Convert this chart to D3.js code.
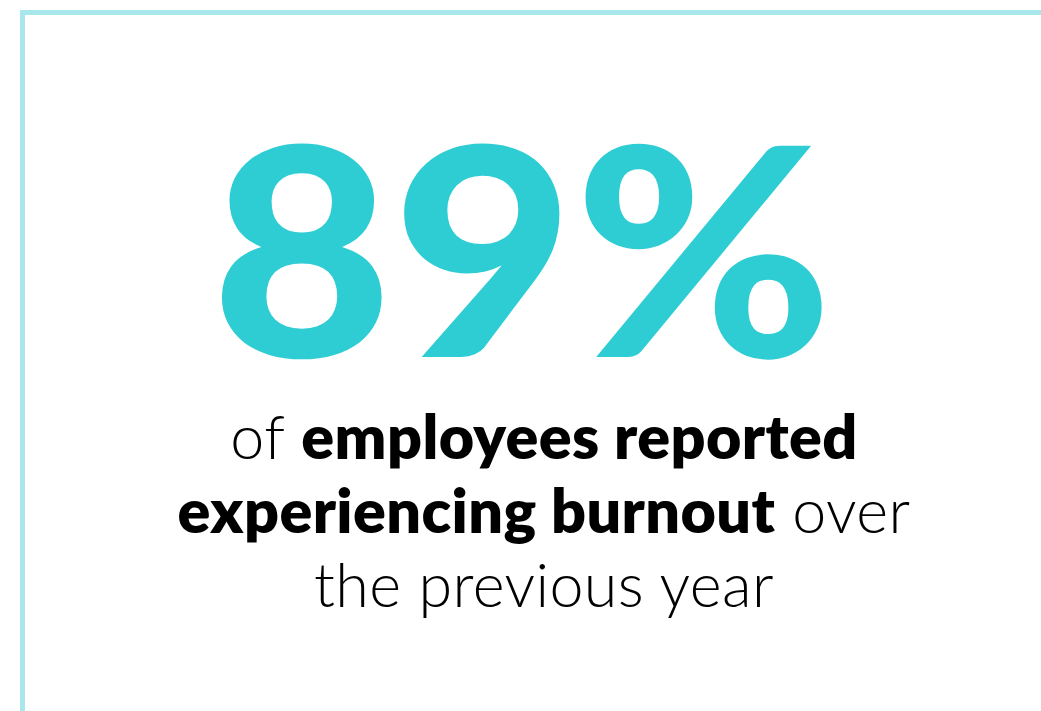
<!DOCTYPE html>
<html><head><meta charset="utf-8">
<script src="https://cdnjs.cloudflare.com/ajax/libs/d3/7.8.5/d3.min.js"></script>
<style>html,body{margin:0;padding:0;background:#fff;overflow:hidden}</style>
</head><body>
<svg id="c" width="1041" height="711"></svg>
<script>
const statValue = [89];
const statSuffix = ["%"];
const lineTexts = [
  ["of ", "employees reported"],
  ["experiencing burnout", " over"],
  ["the previous year"]
];
const lineBold = [
  [false, true],
  [true, false],
  [false]
];

const W = 1041, H = 711;
const svg = d3.select("#c");
const accent = "#2ecdd4", frame = "#a8e8ec";

// frame
svg.append("line").attr("x1", 22.5).attr("x2", 22.5).attr("y1", 10).attr("y2", H)
  .attr("stroke", frame).attr("stroke-width", 5);
svg.append("line").attr("x1", 20).attr("x2", W).attr("y1", 12.5).attr("y2", 12.5)
  .attr("stroke", frame).attr("stroke-width", 5);

// big number
const big = svg.append("text")
  .attr("x", 522).attr("y", 357)
  .attr("text-anchor", "middle")
  .attr("font-family", "Lato")
  .attr("font-weight", 900)
  .attr("font-size", 291)
  .attr("fill", accent)
  .attr("textLength", 622)
  .attr("lengthAdjust", "spacingAndGlyphs")
  .text(d3.format("d")(statValue[0]) + statSuffix[0]);

// label lines
const baselines = d3.scalePoint().domain(d3.range(lineTexts.length)).range([459, 607]);
lineTexts.forEach((parts, i) => {
  const t = svg.append("text")
    .attr("x", 544).attr("y", baselines(i))
    .attr("text-anchor", "middle")
    .attr("font-family", "Lato")
    .attr("font-size", 61)
    .attr("letter-spacing", 0.4)
    .attr("fill", "#000");
  parts.forEach((p, j) => {
    t.append("tspan").attr("font-weight", lineBold[i][j] ? 800 : 300)
      .attr("xml:space", "preserve").style("white-space", "pre").text(p);
  });
});
</script>
</body></html>
